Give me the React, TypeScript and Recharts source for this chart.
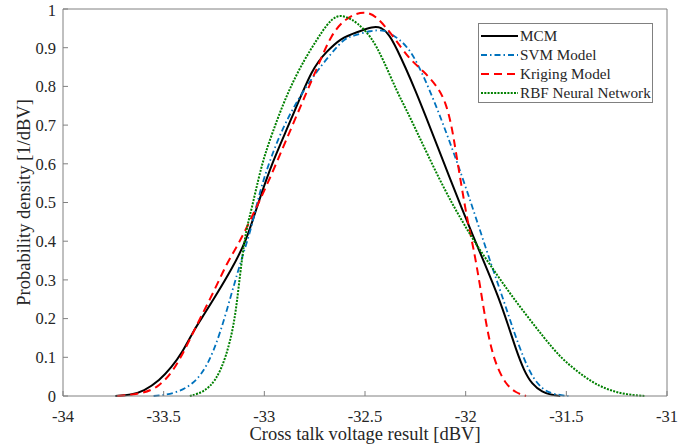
import React from "react";
import {
  LineChart,
  Line,
  XAxis,
  YAxis,
  Legend,
  Label,
} from "recharts";

// x = cross talk voltage [dBV], y = probability density [1/dBV]
const mcmX = [-33.74, -33.66, -33.6, -33.52, -33.46, -33.41, -33.35, -33.3, -33.24, -33.16, -33.09, -33.03, -32.96, -32.87, -32.76, -32.69, -32.62, -32.54, -32.46, -32.42, -32.38, -32.34, -32.3, -32.25, -32.2, -32.14, -32.08, -32.02, -31.96, -31.9, -31.84, -31.79, -31.75, -31.71, -31.67, -31.62, -31.57, -31.53];
const mcmY = [0, 0.003, 0.012, 0.04, 0.075, 0.11, 0.17, 0.21, 0.26, 0.33, 0.4, 0.5, 0.605, 0.71, 0.85, 0.89, 0.925, 0.94, 0.955, 0.953, 0.935, 0.895, 0.85, 0.79, 0.725, 0.645, 0.565, 0.485, 0.41, 0.335, 0.26, 0.185, 0.12, 0.065, 0.03, 0.01, 0.002, 0];

const svmX = [-33.55, -33.45, -33.35, -33.28, -33.22, -33.16, -33.11, -33.06, -33.02, -32.91, -32.77, -32.66, -32.6, -32.56, -32.47, -32.41, -32.38, -32.29, -32.23, -32.17, -32.11, -32.05, -31.99, -31.93, -31.87, -31.81, -31.76, -31.71, -31.67, -31.62, -31.57, -31.49];
const svmY = [0, 0.005, 0.03, 0.08, 0.16, 0.27, 0.36, 0.44, 0.54, 0.7, 0.82, 0.89, 0.925, 0.93, 0.945, 0.945, 0.94, 0.907, 0.85, 0.78, 0.7, 0.615, 0.525, 0.43, 0.335, 0.245, 0.165, 0.095, 0.05, 0.018, 0.005, 0];

const krigX = [-33.73, -33.62, -33.53, -33.45, -33.38, -33.32, -33.25, -33.19, -33.12, -33.07, -32.99, -32.86, -32.72, -32.67, -32.61, -32.54, -32.49, -32.44, -32.36, -32.28, -32.21, -32.14, -32.1, -32.07, -32.05, -32.02, -31.99, -31.96, -31.93, -31.9, -31.87, -31.84, -31.8, -31.75, -31.7];
const krigY = [0, 0.005, 0.02, 0.065, 0.135, 0.2, 0.27, 0.34, 0.4, 0.455, 0.54, 0.7, 0.87, 0.93, 0.97, 0.99, 0.992, 0.98, 0.93, 0.87, 0.84, 0.8, 0.76, 0.7, 0.635, 0.54, 0.45, 0.38, 0.29, 0.19, 0.115, 0.07, 0.03, 0.008, 0];

const rbfX = [-33.37, -33.3, -33.24, -33.19, -33.15, -33.13, -33.11, -33.09, -33.06, -33.03, -33.0, -32.96, -32.91, -32.86, -32.8, -32.74, -32.69, -32.64, -32.59, -32.54, -32.47, -32.41, -32.34, -32.29, -32.24, -32.19, -32.13, -32.07, -32.01, -31.94, -31.86, -31.78, -31.7, -31.61, -31.53, -31.45, -31.37, -31.3, -31.24, -31.17, -31.11];
const rbfY = [0, 0.01, 0.04, 0.1, 0.185, 0.27, 0.36, 0.43, 0.49, 0.56, 0.62, 0.68, 0.75, 0.81, 0.87, 0.92, 0.96, 0.985, 0.98, 0.965, 0.93, 0.87, 0.785, 0.735, 0.68, 0.625, 0.56, 0.5, 0.445, 0.385, 0.325, 0.265, 0.21, 0.15, 0.1, 0.065, 0.035, 0.018, 0.008, 0.002, 0];

const xTicks = [-34, -33.5, -33, -32.5, -32, -31.5, -31];
const yTicks = [0, 0.1, 0.2, 0.3, 0.4, 0.5, 0.6, 0.7, 0.8, 0.9, 1];

const toPoints = (xs: number[], ys: number[]) => xs.map((x, i) => ({ x, y: ys[i] }));

const series = [
  { name: "MCM", data: toPoints(mcmX, mcmY), color: "#000000", dash: undefined, width: 2 },
  { name: "SVM Model", data: toPoints(svmX, svmY), color: "#0072BD", dash: "6 3 1.5 3", width: 1.8 },
  { name: "Kriging Model", data: toPoints(krigX, krigY), color: "#FF0000", dash: "8 5", width: 2 },
  { name: "RBF Neural Network", data: toPoints(rbfX, rbfY), color: "#008000", dash: "2 1.3", width: 2 },
];

const FONT = "'Liberation Serif', 'Times New Roman', serif";
const AXIS = "#808080";
const TEXT = "#262626";

function LegendBox() {
  return (
    <div
      style={{
        border: `1px solid ${AXIS}`,
        background: "#fff",
        width: 173,
        height: 76,
        boxSizing: "content-box",
        paddingTop: 2,
        fontFamily: FONT,
        fontSize: 15.2,
        color: TEXT,
      }}
    >
      {series.map((s) => (
        <div key={s.name} style={{ display: "flex", alignItems: "center", height: 19 }}>
          <svg width={39} height={8} style={{ marginLeft: 2 }}>
            <line x1={0} y1={4} x2={37} y2={4} stroke={s.color} strokeWidth={s.width} strokeDasharray={s.dash} />
          </svg>
          <span style={{ whiteSpace: "nowrap" }}>{s.name}</span>
        </div>
      ))}
    </div>
  );
}

export default function App() {
  return (
    <div style={{ position: "absolute", left: 0, top: 0, background: "#fff", fontFamily: FONT }}>
      <LineChart
        width={690}
        height={448}
        margin={{ top: 8, right: 22, bottom: 22, left: 13 }}
        style={{ fontFamily: FONT }}
      >
        <XAxis
          dataKey="x"
          type="number"
          domain={[-34, -31]}
          ticks={xTicks}
          allowDataOverflow
          height={30}
          stroke={AXIS}
          tickSize={-5}
          tickMargin={19}
          tick={{ fill: TEXT, fontSize: 16.5, fontFamily: FONT }}
          tickFormatter={(v: number) => String(v)}
        >
          <Label
            value="Cross talk voltage result [dBV]"
            position="bottom"
            offset={1}
            style={{ fill: TEXT, fontSize: 18.5, fontFamily: FONT }}
          />
        </XAxis>
        <XAxis
          xAxisId="top"
          orientation="top"
          dataKey="x"
          type="number"
          domain={[-34, -31]}
          ticks={xTicks}
          height={1}
          stroke={AXIS}
          tickSize={-5}
          tickFormatter={() => ""}
        />
        <YAxis
          type="number"
          domain={[0, 1]}
          ticks={yTicks}
          width={50}
          stroke={AXIS}
          tickSize={-5}
          tickMargin={12}
          tick={{ fill: TEXT, fontSize: 16.5, fontFamily: FONT }}
          label={({ viewBox }: any) => {
            const cy = viewBox.y + viewBox.height / 2;
            return (
              <text
                x={30}
                y={cy}
                transform={`rotate(-90 30 ${cy})`}
                textAnchor="middle"
                fill={TEXT}
                fontSize={18.5}
                fontFamily={FONT}
              >
                Probability density [1/dBV]
              </text>
            );
          }}
        />
        <YAxis
          yAxisId="right"
          orientation="right"
          type="number"
          domain={[0, 1]}
          ticks={yTicks}
          width={1}
          stroke={AXIS}
          tickSize={-5}
          tickFormatter={() => ""}
        />
        {series.map((s) => (
          <Line
            key={s.name}
            data={s.data}
            dataKey="y"
            name={s.name}
            type="basis"
            stroke={s.color}
            strokeWidth={s.width}
            strokeDasharray={s.dash}
            dot={false}
            activeDot={false}
            isAnimationActive={false}
          />
        ))}
        <Legend
          layout="vertical"
          align="center"
          verticalAlign="middle"
          wrapperStyle={{ left: 478, top: 23, width: 176, height: 80 }}
          content={() => <LegendBox />}
        />
      </LineChart>
    </div>
  );
}
